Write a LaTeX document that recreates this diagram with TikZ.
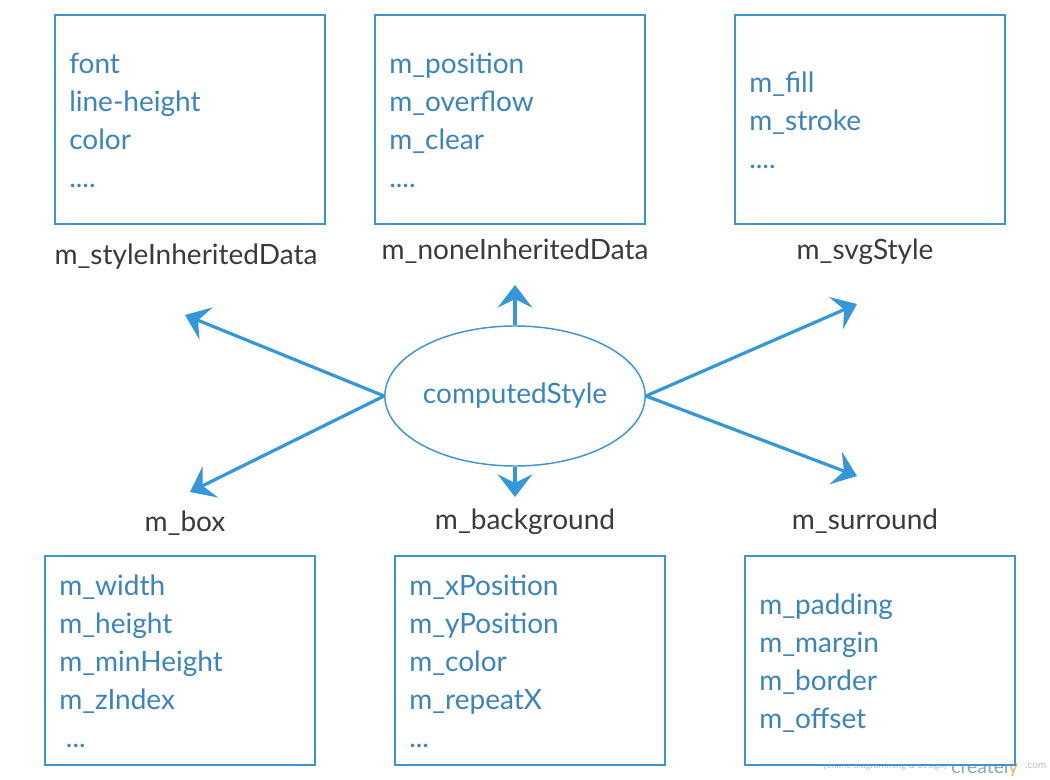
\documentclass[tikz,border=0pt]{standalone}
\usepackage{fontspec}
\setmainfont{Lato}
\usetikzlibrary{arrows.meta,shapes.geometric}
\definecolor{boxblue}{HTML}{3F95D2}
\definecolor{txtblue}{HTML}{3C84BE}
\definecolor{lblgray}{HTML}{3A3A3A}
\definecolor{arrblue}{HTML}{3497DA}
\definecolor{wmgray}{HTML}{B8BCC2}
\definecolor{wmblue}{HTML}{8FA3BC}
\definecolor{wmorange}{HTML}{F3B35B}
\newcommand\mytridots{..{}.}
\newcommand\myquaddots{..{}..}
\begin{document}
\begin{tikzpicture}[x=0.75pt,y=-0.75pt,
  box/.style={draw=boxblue, line width=1.5pt, fill=white, minimum width=202.5pt, minimum height=156.75pt, inner sep=0pt},
  item/.style={anchor=base west, text=txtblue, font=\fontsize{21}{25}\selectfont, inner sep=0pt},
  lbl/.style={anchor=base, text=lblgray, font=\fontsize{21}{25}\selectfont, inner sep=0pt},
  link/.style={draw=arrblue, line width=2.4pt, -{Stealth[length=17pt,width=26pt,inset=6.5pt]}}
]
\useasboundingbox (0,0) rectangle (1050,780);
% watermark
\node[anchor=base east, text=wmgray, font=\fontsize{7}{8}\selectfont, inner sep=0pt] (wm1) at (947,768) {[online diagramming \& design]};
\node[anchor=base west, text=wmblue, font=\fontsize{14.5}{17}\selectfont, inner sep=0pt] (wm2) at (951,773) {createl\textcolor{wmorange}{y}};
\node[anchor=base west, text=wmgray, font=\fontsize{7.5}{9}\selectfont, inner sep=0pt] (wm3) at (1025,768) {.com};
% boxes
\node[box] (b1) at (190,119.5) {};
\node[box] (b2) at (510,119.5) {};
\node[box] (b3) at (870,119.5) {};
\node[box] (b4) at (180,660) {};
\node[box] (b5) at (530,660) {};
\node[box] (b6) at (880,660) {};
% box contents
\foreach \t [count=\i] in {font,line-height,color,\myquaddots}
  \node[item] (ta\i) at (69,{74+38*(\i-1)}) {\t};
\foreach \t [count=\i] in {m\_position,m\_overflow,m\_clear,\myquaddots}
  \node[item] (tb\i) at (389,{74+38*(\i-1)}) {\t};
\foreach \t [count=\i] in {m\_fill,m\_stroke,\myquaddots}
  \node[item] (tc\i) at (749,{93+38*(\i-1)}) {\t};
\foreach \t [count=\i] in {m\_width,m\_height,m\_minHeight,m\_zIndex,\hspace{5pt}\mytridots}
  \node[item] (td\i) at (59,{595+38*(\i-1)}) {\t};
\foreach \t [count=\i] in {m\_xPosition,m\_yPosition,m\_color,m\_repeatX,\mytridots}
  \node[item] (te\i) at (409,{595+38*(\i-1)}) {\t};
\foreach \t [count=\i] in {m\_padding,m\_margin,m\_border,m\_offset}
  \node[item] (tf\i) at (759,{614+38*(\i-1)}) {\t};
% labels
\node[lbl] (l1) at (186,265) {m\_styleInheritedData};
\node[lbl] (l2) at (515,260) {m\_noneInheritedData};
\node[lbl] (l3) at (865,260) {m\_svgStyle};
\node[lbl] (l4) at (185,532) {m\_box};
\node[lbl] (l5) at (525,529) {m\_background};
\node[lbl] (l6) at (865,529) {m\_surround};
% center
\node[ellipse, draw=boxblue, line width=1.1pt, minimum width=195pt, minimum height=105pt, inner sep=0pt,
      text=txtblue, font=\fontsize{21}{25}\selectfont] (cs) at (515,396) {computedStyle};
\coordinate (pUL) at (185,315);
\coordinate (pLL) at (190,492);
\coordinate (pU) at (515,285);
\coordinate (pD) at (515,497);
\coordinate (pUR) at (857,304);
\coordinate (pLR) at (857,476);
\draw[link] (cs.west) -- (pUL);
\draw[link] (cs.west) -- (pLL);
\draw[link] (cs.north) -- (pU);
\draw[link] (cs.south) -- (pD);
\draw[link] (cs.east) -- (pUR);
\draw[link] (cs.east) -- (pLR);
\end{tikzpicture}
\end{document}
